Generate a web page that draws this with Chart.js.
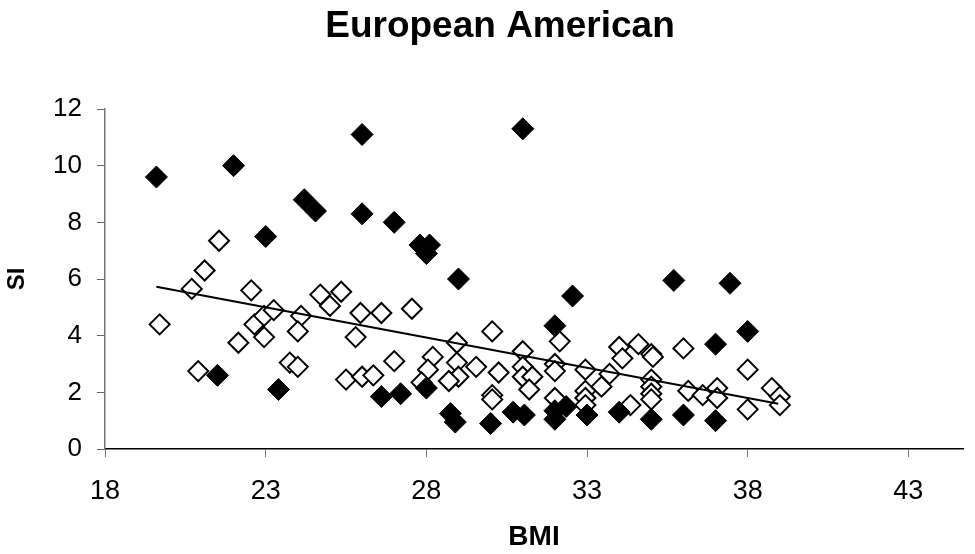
<!DOCTYPE html>
<html>
<head>
<meta charset="utf-8">
<script src="https://cdn.jsdelivr.net/npm/chart.js@4"></script>
<style>
  html, body { margin: 0; padding: 0; background: #fff; }
  #wrap { width: 975px; height: 554px; }
</style>
</head>
<body>
<div id="wrap"><canvas id="chart" width="975" height="554"></canvas></div>
<script>
const chartTitle = "European American";
const xTitle = "BMI";
const yTitle = "SI";
const xTicks = [18, 23, 28, 33, 38, 43];
const yTicks = [0, 2, 4, 6, 8, 10, 12];

// filled diamonds
const filledX = [19.6, 22.0, 26.0, 24.2, 24.55, 26.0, 27.0, 23.0, 31.0, 27.8, 28.1, 28.0, 29.0, 32.55, 35.7, 37.45, 38.0, 37.0, 36.0, 37.0, 35.0, 21.5, 23.4, 26.6, 27.2, 32.0, 28.0, 28.75, 28.9, 30.0, 30.7, 31.05, 32.0, 32.35, 32.0, 33.0, 34.0];
const filledY = [9.6, 10.0, 11.1, 8.8, 8.4, 8.3, 8.0, 7.5, 11.3, 7.2, 7.2, 6.9, 6.0, 5.4, 5.95, 5.85, 4.15, 3.7, 1.2, 1.0, 1.05, 2.6, 2.1, 1.85, 1.95, 4.35, 2.15, 1.25, 0.95, 0.9, 1.3, 1.2, 1.35, 1.5, 1.05, 1.2, 1.3];

// open diamonds
const openX = [21.55, 21.1, 20.7, 22.55, 24.7, 25.35, 19.7, 20.9, 22.15, 22.65, 22.95, 23.25, 22.95, 24.1, 24.0, 25.0, 25.95, 26.6, 25.8, 23.75, 24.0, 25.5, 26.0, 26.35, 27.0, 27.55, 30.05, 28.95, 28.2, 28.05, 27.85, 28.95, 29.0, 28.7, 29.55, 30.25, 30.05, 30.05, 31.0, 31.0, 31.0, 31.3, 31.2, 32.15, 32.0, 32.0, 32.0, 32.95, 32.95, 32.95, 32.95, 33.45, 33.7, 34.0, 34.1, 34.6, 35.0, 35.05, 35.0, 35.0, 35.0, 35.0, 34.35, 36.0, 38.0, 36.15, 36.6, 37.05, 37.05, 38.0, 38.75, 39.0, 39.0];
const openY = [7.35, 6.3, 5.65, 5.6, 5.45, 5.55, 4.4, 2.75, 3.75, 4.4, 4.7, 4.9, 3.95, 4.7, 4.15, 5.05, 4.8, 4.8, 3.95, 3.05, 2.9, 2.45, 2.55, 2.6, 3.1, 4.95, 4.15, 3.75, 3.25, 2.8, 2.35, 3.05, 2.55, 2.4, 2.9, 2.7, 1.9, 1.75, 3.45, 2.9, 2.55, 2.55, 2.1, 3.8, 3.0, 2.75, 1.8, 2.8, 2.05, 1.8, 1.55, 2.2, 2.65, 3.6, 3.2, 3.7, 3.35, 3.25, 2.45, 2.2, 1.95, 1.75, 1.55, 3.55, 2.8, 2.05, 1.9, 2.15, 1.8, 1.4, 2.15, 1.85, 1.55];

// linear trend line ends
const trendX = [19.6, 38.95];
const trendY = [5.73, 1.6];

const toPoints = (xs, ys) => xs.map((x, i) => ({ x: x, y: ys[i] }));
const FONT = '"Liberation Sans", Arial, sans-serif';

const titlePlugin = {
  id: "plainTitle",
  afterDraw(chart) {
    const ctx = chart.ctx;
    ctx.save();
    ctx.font = "bold 37px " + FONT;
    ctx.fillStyle = "#000";
    ctx.textAlign = "center";
    ctx.textBaseline = "alphabetic";
    ctx.fillText(chartTitle, 500, 37);
    ctx.restore();
  }
};

new Chart(document.getElementById("chart").getContext("2d"), {
  type: "scatter",
  data: {
    datasets: [
      {
        type: "line",
        label: "trend",
        data: toPoints(trendX, trendY),
        borderColor: "#000",
        borderWidth: 2,
        pointRadius: 0,
        fill: false,
        order: 0
      },
      {
        label: "filled",
        data: toPoints(filledX, filledY),
        pointStyle: "rectRot",
        pointRadius: 11,
        backgroundColor: "#000",
        borderColor: "#000",
        borderWidth: 1,
        order: 1
      },
      {
        label: "open",
        data: toPoints(openX, openY),
        pointStyle: "rectRot",
        pointRadius: 10,
        backgroundColor: "#fff",
        borderColor: "#000",
        borderWidth: 2,
        order: 2
      }
    ]
  },
  options: {
    responsive: false,
    animation: false,
    layout: { padding: { top: 109, left: 0, right: 0, bottom: 0 } },
    plugins: {
      legend: { display: false },
      tooltip: { enabled: false }
    },
    scales: {
      x: {
        type: "linear",
        min: 18,
        max: 44.7,
        afterBuildTicks: axis => { axis.ticks = xTicks.map(v => ({ value: v })); },
        afterFit: axis => { axis.height = 105; },
        grid: { drawOnChartArea: false, tickLength: 8, tickColor: "#777" },
        border: { color: "#000", width: 1.5 },
        ticks: { color: "#000", font: { family: FONT, size: 27 }, padding: 18 },
        title: {
          display: true,
          text: xTitle,
          color: "#000",
          font: { family: FONT, size: 28, weight: "bold" },
          padding: { top: 0, bottom: 0 }
        }
      },
      y: {
        min: 0,
        max: 12,
        afterBuildTicks: axis => { axis.ticks = yTicks.map(v => ({ value: v })); },
        afterFit: axis => { axis.width = 105; },
        grid: { drawOnChartArea: false, tickLength: 8, tickColor: "#666" },
        border: { color: "#777", width: 1.5 },
        ticks: { color: "#000", font: { family: FONT, size: 26 }, padding: 15 },
        title: {
          display: true,
          text: yTitle,
          color: "#000",
          font: { family: FONT, size: 24, weight: "bold" },
          padding: { top: 3, bottom: 0 }
        }
      }
    }
  },
  plugins: [titlePlugin]
});
</script>
</body>
</html>
